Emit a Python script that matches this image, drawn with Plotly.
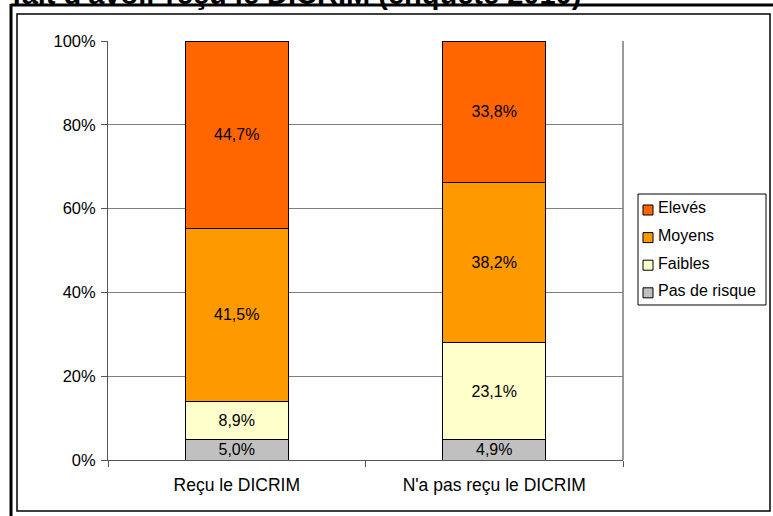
import plotly.graph_objects as go

categories = ["Reçu le DICRIM", "N'a pas reçu le DICRIM"]
series_names = ["Pas de risque", "Faibles", "Moyens", "Elevés"]
pas_de_risque = [5.0, 4.9]
faibles = [8.9, 23.1]
moyens = [41.5, 38.2]
eleves = [44.7, 33.8]
colors = ["#C0C0C0", "#FFFFCC", "#FF9900", "#FF6600"]
y_ticks = [0, 20, 40, 60, 80, 100]
y_tick_labels = ["0%", "20%", "40%", "60%", "80%", "100%"]
title_text = "fait d'avoir reçu le DICRIM (enquête 2010)"

W, H = 773, 516
L, R, T, B = 108, 623, 41, 460

def px_x(px):
    return (px - L) / (R - L)

def px_y(py):
    return (B - py) / (B - T)

FONT = "Liberation Sans, Arial, sans-serif"

fig = go.Figure()
for i, (name, vals) in enumerate(zip(series_names, [pas_de_risque, faibles, moyens, eleves])):
    fig.add_trace(go.Bar(
        x=categories, y=vals, name=name,
        marker=dict(color=colors[i], line=dict(color="#000000", width=1)),
        text=[f"{v:.1f}%".replace(".", ",") for v in vals],
        textposition="inside", insidetextanchor="middle",
        textangle=0, constraintext="none",
        textfont=dict(family=FONT, size=16, color="#000000"),
        showlegend=False,
    ))

shapes = [
    # plot area border (right side)
    dict(type="line", xref="paper", yref="paper", x0=1, x1=1, y0=0, y1=1,
         line=dict(color="#999999", width=2), layer="below"),
    # inner chart frame
    dict(type="rect", xref="paper", yref="paper",
         x0=px_x(17), x1=px_x(770), y0=px_y(14), y1=px_y(511),
         line=dict(color="#000000", width=1.5), layer="below"),
    # outer frame
    dict(type="line", xref="paper", yref="paper",
         x0=px_x(11), x1=px_x(11), y0=px_y(4), y1=px_y(520),
         line=dict(color="#000000", width=3)),
    dict(type="line", xref="paper", yref="paper",
         x0=px_x(11), x1=px_x(780), y0=px_y(5), y1=px_y(5),
         line=dict(color="#000000", width=3)),
    # legend box
    dict(type="rect", xref="paper", yref="paper",
         x0=px_x(638), x1=px_x(766), y0=px_y(194), y1=px_y(305),
         line=dict(color="#000000", width=1), fillcolor="#FFFFFF"),
]

annotations = [
    dict(text="<b>" + title_text + "</b>", xref="paper", yref="paper",
         x=px_x(10), y=px_y(12), xanchor="left", yanchor="bottom",
         showarrow=False, font=dict(family=FONT, size=29, color="#000000")),
]

# legend entries (top: Elevés ... bottom: Pas de risque)
leg_y0, leg_step = 208, 27.6
for k, idx in enumerate(reversed(range(len(series_names)))):
    cy = leg_y0 + k * leg_step
    shapes.append(dict(type="rect", xref="paper", yref="paper",
                       x0=px_x(643), x1=px_x(653), y0=px_y(cy + 7), y1=px_y(cy - 3),
                       line=dict(color="#000000", width=1), fillcolor=colors[idx]))
    annotations.append(dict(text=series_names[idx], xref="paper", yref="paper",
                            x=px_x(656), y=px_y(cy), xanchor="left", yanchor="middle",
                            showarrow=False,
                            font=dict(family=FONT, size=16, color="#000000")))

fig.update_layout(
    width=W, height=H,
    barmode="stack", barnorm="percent", bargap=0.6,
    plot_bgcolor="#FFFFFF", paper_bgcolor="#FFFFFF",
    margin=dict(l=L, r=W - R, t=T, b=H - B, autoexpand=False),
    font=dict(family=FONT, size=16, color="#000000"),
    showlegend=False,
    xaxis=dict(
        showline=True, linecolor="#555555", linewidth=1,
        ticks="outside", ticklen=6, tickcolor="#555555", tickson="boundaries",
        tickfont=dict(family=FONT, size=17.5, color="#000000"),
        ticklabelstandoff=9,
        showgrid=False, fixedrange=True,
    ),
    yaxis=dict(
        range=[0, 100], tickvals=y_ticks, ticktext=y_tick_labels,
        showline=True, linecolor="#555555", linewidth=1,
        ticks="outside", ticklen=6, tickcolor="#555555",
        ticklabelstandoff=2,
        showgrid=True, gridcolor="#808080", gridwidth=1,
        tickfont=dict(family=FONT, size=16.5, color="#000000"),
        zeroline=False, fixedrange=True,
    ),
    shapes=shapes,
    annotations=annotations,
)

fig.write_html("out.html", config={"displayModeBar": False},
               post_script="document.body.style.margin='0px';document.body.style.overflow='hidden';")
